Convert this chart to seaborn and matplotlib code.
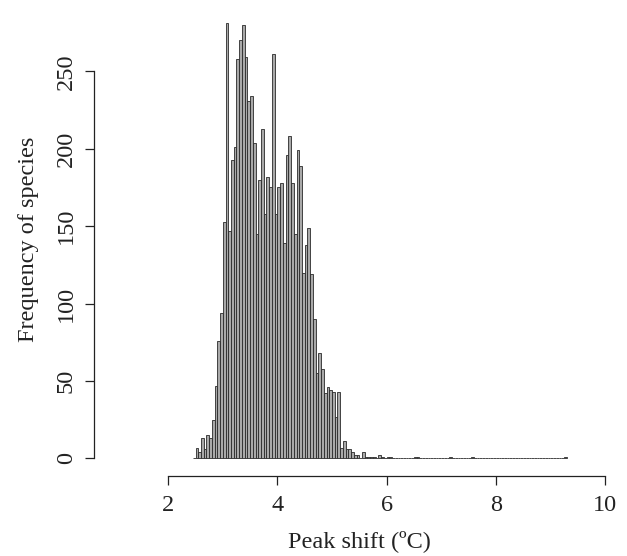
import numpy as np
import pandas as pd
import matplotlib
matplotlib.use("Agg")
import matplotlib.pyplot as plt
import seaborn as sns

# ---- data ----
bin_start = 2.45
bin_width = 0.05
counts = [0,
          7, 4, 13, 6, 15, 13, 25, 47, 76, 94,
          153, 281, 147, 193, 201, 258, 270, 280, 259, 231,
          234, 204, 145, 180, 213, 158, 182, 175, 261, 158,
          175, 178, 139, 196, 208, 178, 145, 199, 189, 120,
          138, 149, 119, 90, 55, 68, 58, 42, 46, 44,
          43, 27, 43, 7, 11, 6, 6, 4, 2, 2,
          0, 4, 1, 1, 1, 1, 0, 2, 1, 0,
          1, 1, 0, 0, 0, 0, 0, 0, 0, 0,
          1, 1, 0, 0, 0, 0, 0, 0, 0, 0,
          0, 0, 0, 1, 0, 0, 0, 0, 0, 0,
          0, 1, 0, 0, 0, 0, 0, 0, 0, 0,
          0, 0, 0, 0, 0, 0, 0, 0, 0, 0,
          0, 0, 0, 0, 0, 0, 0, 0, 0, 0,
          0, 0, 0, 0, 0, 1]
x_ticks = [2, 4, 6, 8, 10]
y_ticks = [0, 50, 100, 150, 200, 250]
x_label = "Peak shift (ºC)"
y_label = "Frequency of species"

n_bins = len(counts)
bin_end = bin_start + bin_width * n_bins
centers = bin_start + bin_width * (np.arange(n_bins) + 0.5)
df = pd.DataFrame({"shift": centers, "n": counts})

sns.set_style("white")
plt.rcParams["font.family"] = ["Liberation Serif", "DejaVu Serif"]

W, H = 627, 556
fig = plt.figure(figsize=(W / 100, H / 100), dpi=100)
left, right, top, bottom = 94, 624.6, 2.7, 476
ax = fig.add_axes([left / W, (H - bottom) / H, (right - left) / W, (bottom - top) / H])

sns.histplot(data=df, x="shift", weights="n", bins=n_bins,
             binrange=(bin_start, bin_end), ax=ax,
             color="#A9A9A9", edgecolor="#2a2a2a", linewidth=0.6, alpha=1)

ax.set_xlim(0.64, 10.36)
ax.set_ylim(-11.3, 294.3)

for s in ["top", "right"]:
    ax.spines[s].set_visible(False)
for s in ["left", "bottom"]:
    ax.spines[s].set_visible(True)
    ax.spines[s].set_color("#222222")
    ax.spines[s].set_linewidth(0.9)
ax.spines["bottom"].set_bounds(2, 10)
ax.spines["left"].set_bounds(0, 250)

ax.set_xticks(x_ticks)
ax.set_xticklabels([str(v) for v in x_ticks])
ax.set_yticks(y_ticks)
ax.set_yticklabels([str(v) for v in y_ticks], rotation=90, va="center")
ax.tick_params(axis="both", which="major", direction="out", length=6.5, width=0.9,
               color="#222222", labelsize=17.5, labelcolor="#222222",
               bottom=True, left=True, top=False, right=False)
ax.tick_params(axis="x", pad=7.5)
ax.tick_params(axis="y", pad=6)

ax.set_xlabel(x_label, fontsize=17.5, color="#222222", labelpad=10)
ax.set_ylabel(y_label, fontsize=17.5, color="#222222", labelpad=12)
ax.grid(False)

fig.savefig("out.png", dpi=100)
